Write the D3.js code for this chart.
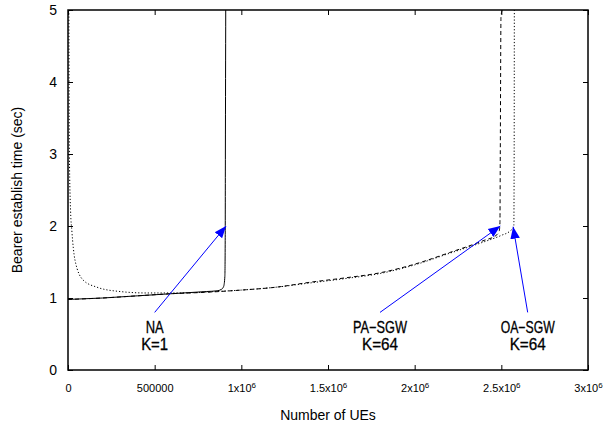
<!DOCTYPE html>
<html>
<head>
<meta charset="utf-8">
<script src="https://cdn.jsdelivr.net/npm/d3@7"></script>
<style>
  body { margin: 0; background: #fff; }
  svg text { font-family: "Liberation Sans", Arial, Helvetica, sans-serif; fill: #000; }
</style>
</head>
<body>
<div id="chart"></div>
<script>
// axis ticks
const X_TICKS = [0, 500000, 1000000, 1500000, 2000000, 2500000, 3000000];
const X_TICK_LABELS = ["0", "500000", "1x10^6", "1.5x10^6", "2x10^6", "2.5x10^6", "3x10^6"];
const Y_TICKS = [0, 1, 2, 3, 4, 5];

// NA K=1 (solid)
const NA_X = [0, 200000, 400000, 600000, 800000, 860000, 885000, 898000, 905000, 907000, 908000, 910000];
const NA_Y = [0.98, 1.0, 1.03, 1.06, 1.09, 1.10, 1.12, 1.16, 1.3, 1.8, 3.0, 5];

// PA-SGW K=64 (dashed)
const PA_X = [0, 200000, 400000, 600000, 800000, 1000000, 1200000, 1400000, 1600000, 1800000, 2000000, 2200000, 2400000, 2470000, 2488000, 2492000, 2494000, 2498000, 2505000];
const PA_Y = [0.98, 1.0, 1.03, 1.06, 1.08, 1.11, 1.15, 1.22, 1.28, 1.35, 1.47, 1.63, 1.80, 1.87, 1.93, 2.05, 3.0, 4.9, 5];

// OA-SGW K=64 (dotted)
const OA_X = [5000, 8000, 15000, 22000, 40000, 87000, 167000, 300000, 450000, 650000, 850000, 1000000, 1200000, 1400000, 1600000, 1800000, 2000000, 2200000, 2400000, 2500000, 2550000, 2572000, 2574000, 2575000];
const OA_Y = [5, 3.0, 2.2, 1.94, 1.53, 1.25, 1.15, 1.09, 1.07, 1.07, 1.09, 1.11, 1.15, 1.21, 1.27, 1.34, 1.46, 1.62, 1.78, 1.87, 1.93, 1.99, 3.0, 5];

// annotations: label lines, arrow tail and head (data units)
const NOTE_TEXT = [["NA", "K=1"], ["PA\u2212SGW", "K=64"], ["OA\u2212SGW", "K=64"]];
const NOTE_TAIL = [[500000, 0.8], [1800000, 0.8], [2652000, 0.8]];
const NOTE_HEAD = [[912000, 2.0], [2494000, 2.0], [2568000, 1.99]];

var width = 605,
    height = 430;
var margin = {top: 10, right: 17, bottom: 60, left: 68};

var svg = d3.select("#chart").append("svg")
  .attr("width", width)
  .attr("height", height);

const x = d3.scaleLinear()
  .domain([0, 3000000])
  .range([margin.left, width - margin.right]);
const y = d3.scaleLinear()
  .domain([0, 5])
  .range([height - margin.bottom, margin.top]);

svg.append("defs").append("marker")
    .attr("id", "head")
    .attr("viewBox", "0 0 10 10")
    .attr("refX", 10).attr("refY", 5)
    .attr("markerWidth", 12).attr("markerHeight", 12)
    .attr("markerUnits", "userSpaceOnUse")
    .attr("orient", "auto")
  .append("path")
    .attr("d", "M0,1 L10,5 L0,9 Z")
    .attr("fill", "#0000ff");

// ticks on all four sides, pointing inwards
var bottom = svg.append("g")
  .attr("transform", "translate(0," + y(0) + ")")
  .call(d3.axisBottom(x).tickValues(X_TICKS).tickSizeInner(-5).tickSizeOuter(0).tickPadding(14));
bottom.selectAll("text")
  .style("font-size", "11px")
  .each(function(d, i) {
    var parts = X_TICK_LABELS[i].split("^");
    var t = d3.select(this).text(parts[0]);
    if (parts[1]) {
      t.append("tspan").attr("dy", "-0.5em").style("font-size", "8px").text(parts[1]);
    }
  });

svg.append("g")
  .attr("transform", "translate(0," + y(5) + ")")
  .call(d3.axisTop(x).tickValues(X_TICKS).tickSizeInner(-5).tickSizeOuter(0).tickFormat(""));

var left = svg.append("g")
  .attr("transform", "translate(" + x(0) + ",0)")
  .call(d3.axisLeft(y).tickValues(Y_TICKS).tickFormat(d3.format("d"))
    .tickSizeInner(-5).tickSizeOuter(0).tickPadding(11));
left.selectAll("text").style("font-size", "14px");

svg.append("g")
  .attr("transform", "translate(" + x(3000000) + ",0)")
  .call(d3.axisRight(y).tickValues(Y_TICKS).tickSizeInner(-5).tickSizeOuter(0).tickFormat(""));

svg.selectAll(".domain").remove();
svg.selectAll(".tick line").attr("stroke", "#000");

// data lines
var line = d3.line()
  .x(d => x(d[0]))
  .y(d => y(d[1]))
  .curve(d3.curveMonotoneX);

function drawSeries(xs, ys, dash) {
  svg.append("path")
    .datum(xs.map((v, i) => [v, ys[i]]))
    .attr("fill", "none")
    .attr("stroke", "#000")
    .attr("stroke-width", 1)
    .attr("stroke-dasharray", dash)
    .attr("d", line);
}
drawSeries(NA_X, NA_Y, null);
drawSeries(PA_X, PA_Y, "4,3");
drawSeries(OA_X, OA_Y, "1.2,2");

// frame
svg.append("rect")
  .attr("x", x(0)).attr("y", y(5))
  .attr("width", x(3000000) - x(0))
  .attr("height", y(0) - y(5))
  .attr("fill", "none")
  .attr("stroke", "#000")
  .attr("stroke-width", 1.5);

// arrows + labels (narrow look via textLength)
NOTE_TEXT.forEach(function(lines, i) {
  svg.append("line")
    .attr("x1", x(NOTE_TAIL[i][0])).attr("y1", y(NOTE_TAIL[i][1]))
    .attr("x2", x(NOTE_HEAD[i][0])).attr("y2", y(NOTE_HEAD[i][1]))
    .attr("stroke", "#0000ff")
    .attr("stroke-width", 1)
    .attr("marker-end", "url(#head)");
  lines.forEach(function(s, j) {
    svg.append("text")
      .attr("x", x(NOTE_TAIL[i][0]))
      .attr("y", y(NOTE_TAIL[i][1]) + 21 + j * 17)
      .attr("text-anchor", "middle")
      .attr("textLength", s.length * 9)
      .attr("lengthAdjust", "spacingAndGlyphs")
      .style("font-size", "16.5px")
      .style("stroke", "#000")
      .style("stroke-width", 0.3)
      .text(s);
  });
});

// axis titles
svg.append("text")
  .attr("x", (x(0) + x(3000000)) / 2)
  .attr("y", 420)
  .attr("text-anchor", "middle")
  .style("font-size", "14px")
  .text("Number of UEs");

svg.append("text")
  .attr("transform", "translate(22," + (y(0) + y(5)) / 2 + ") rotate(-90)")
  .attr("text-anchor", "middle")
  .style("font-size", "14px")
  .text("Bearer establish time (sec)");
</script>
</body>
</html>
